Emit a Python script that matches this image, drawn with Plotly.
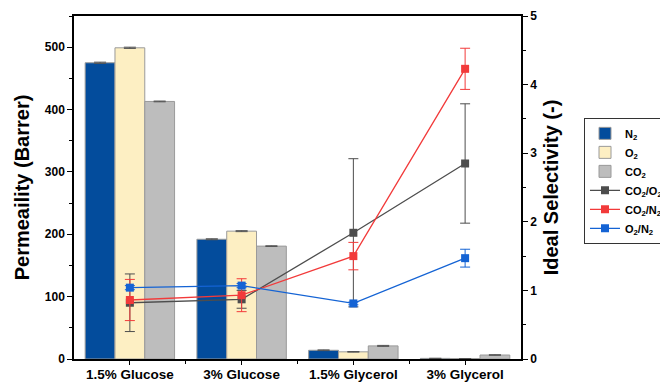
import plotly.graph_objects as go

categories = ["1.5% Glucose", "3% Glucose", "1.5% Glycerol", "3% Glycerol"]

n2_perm = [475, 192, 14, 1.0]
n2_err = [1.0, 0.8, 0.6, 0.2]
o2_perm = [499, 205, 11.5, 0.6]
o2_err = [1.0, 0.8, 0.5, 0.2]
co2_perm = [413, 181, 21, 6.4]
co2_err = [0.6, 0.6, 0.8, 0.5]

co2_o2_sel = [0.82, 0.87, 1.84, 2.85]
co2_o2_err = [0.42, 0.13, 1.08, 0.87]
co2_n2_sel = [0.86, 0.93, 1.50, 4.23]
co2_n2_err = [0.30, 0.24, 0.20, 0.30]
o2_n2_sel = [1.04, 1.07, 0.81, 1.47]
o2_n2_err = [0.03, 0.03, 0.02, 0.13]

bar_names = ["N<sub>2</sub>", "O<sub>2</sub>", "CO<sub>2</sub>"]
line_names = ["CO<sub>2</sub>/O<sub>2</sub>", "CO<sub>2</sub>/N<sub>2</sub>", "O<sub>2</sub>/N<sub>2</sub>"]

bar_colors = ["#034c9c", "#fdefc3", "#bdbdbd"]
line_colors = ["#4d4d4d", "#f23a3a", "#1463d4"]

fig = go.Figure()

for name, vals, errs, col in zip(bar_names, [n2_perm, o2_perm, co2_perm],
                                  [n2_err, o2_err, co2_err], bar_colors):
    fig.add_trace(go.Bar(
        x=categories, y=vals, name=name,
        marker=dict(color=col, line=dict(color="#9a9a9a", width=1)),
        error_y=dict(type="data", array=errs, color="#555555", thickness=1, width=6),
        yaxis="y",
    ))

for name, vals, errs, col in zip(line_names, [co2_o2_sel, co2_n2_sel, o2_n2_sel],
                                  [co2_o2_err, co2_n2_err, o2_n2_err], line_colors):
    fig.add_trace(go.Scatter(
        x=categories, y=vals, name=name, mode="lines+markers",
        line=dict(color=col, width=1.3),
        marker=dict(symbol="square", size=8, color=col),
        error_y=dict(type="data", array=errs, color=col, thickness=1, width=5),
        yaxis="y2",
    ))

font_family = "Liberation Sans, Arial, sans-serif"

# page body has an 8px margin, so the figure is sized to fit the 668x384 window
fig.update_layout(
    width=660, height=376,
    margin=dict(l=66, r=0, t=8, b=25),
    paper_bgcolor="white", plot_bgcolor="white",
    barmode="group", bargap=0.2, bargroupgap=0,
    font=dict(family=font_family, color="black"),
    showlegend=True,
    legend=dict(
        x=1.0, y=0.703, xanchor="right", yanchor="top",
        bordercolor="#333333", borderwidth=1,
        font=dict(size=11, family=font_family, weight="bold"),
        tracegroupgap=0, itemwidth=30,
    ),
    xaxis=dict(
        domain=[0, 0.7525],
        range=[-0.5, 3.5], showline=True, linecolor="black", linewidth=1.5,
        mirror=True, ticks="outside", ticklen=4, tickcolor="black",
        tickfont=dict(size=13.5, family=font_family, weight="bold"),
        ticklabelstandoff=-2,
        showgrid=False, zeroline=False, automargin=False,
        minor=dict(ticks="outside", ticklen=3, tickcolor="black", tickvals=[0.5, 1.5, 2.5]),
    ),
    yaxis=dict(
        range=[0, 550], dtick=100, showline=True, linecolor="black", linewidth=1.5,
        ticks="outside", ticklen=5, tickcolor="black",
        tickfont=dict(size=12, family=font_family, weight="bold"),
        title=dict(text="Permeaility (Barrer)", font=dict(size=20, family=font_family, weight="bold"), standoff=10),
        showgrid=False, zeroline=False, automargin=False,
        minor=dict(ticks="outside", ticklen=3, tickcolor="black", dtick=50),
    ),
    yaxis2=dict(
        range=[0, 5], dtick=1, overlaying="y", side="right", anchor="x",
        showline=True, linecolor="black", linewidth=1.5,
        ticks="outside", ticklen=5, tickcolor="black",
        tickfont=dict(size=12, family=font_family, weight="bold"),
        title=dict(text="Ideal Selectivity (-)", font=dict(size=20, family=font_family, weight="bold"), standoff=8),
        showgrid=False, zeroline=False, automargin=False,
        minor=dict(ticks="outside", ticklen=3, tickcolor="black", dtick=0.5),
    ),
)

fig.write_html("out.html")
